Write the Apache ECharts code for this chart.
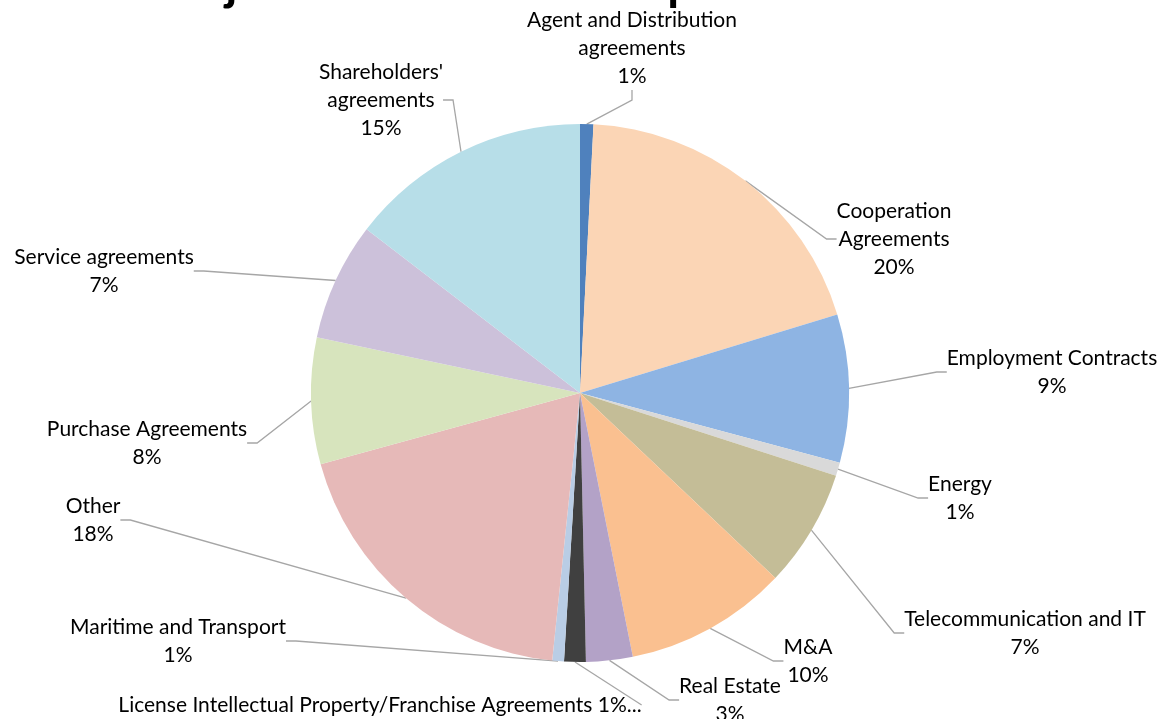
<!DOCTYPE html>
<html><head><meta charset="utf-8">
<script src="https://cdn.jsdelivr.net/npm/echarts@6/dist/echarts.min.js"></script>
<style>html,body{margin:0;padding:0;background:#fff}#c{width:1164px;height:719px}</style>
</head><body><div id="c"></div>
<script>
const titleText = 'Subject matter of the disputes in 2017';
const categories = [
  'Agent and Distribution\nagreements',
  'Cooperation\nAgreements',
  'Employment Contracts',
  'Energy',
  'Telecommunication and IT',
  'M&A',
  'Real Estate',
  'License Intellectual Property/Franchise Agreements',
  'Maritime and Transport',
  'Other',
  'Purchase Agreements',
  'Service agreements',
  "Shareholders'\nagreements"
];
const values = [0.8, 19.5, 8.9, 0.8, 7.1, 9.8, 2.8, 1.3, 0.7, 19.1, 7.6, 7.1, 14.6];
const percentLabels = ['1%', '20%', '9%', '1%', '7%', '10%', '3%', '1%...', '1%', '18%', '8%', '7%', '15%'];
const colors = ['#4F81BD', '#FBD5B5', '#8EB4E3', '#D9D9D9', '#C4BD97', '#FAC090', '#B3A2C7', '#404040', '#B9CDE5', '#E6B9B8', '#D7E4BD', '#CCC1DA', '#B7DEE8'];

// label placement (centre of each label block), layout only
const labelCenters = [[632,48],[894,239],[1052,372],[960,498],[1025,633],[808,661],[730,700],[380,705],[178,641],[93,520],[147,443],[104,271],[381,100]];
const singleLine = [7];

const chart = echarts.init(document.getElementById('c'), null, {renderer: 'canvas'});
const data = categories.map((n, i) => ({
  name: n, value: values[i], itemStyle: {color: colors[i]},
  label: {formatter: singleLine.includes(i) ? n + ' ' + percentLabels[i] : n + '\n' + percentLabels[i]}
}));
chart.setOption({
  animation: false,
  title: {
    text: titleText, left: 140, top: -44,
    textStyle: {fontFamily: 'Lato', fontWeight: 'bold', fontSize: 48, color: '#000'}
  },
  series: [{
    type: 'pie',
    center: [580, 393],
    radius: 269,
    startAngle: 90,
    clockwise: true,
    avoidLabelOverlap: false,
    data: data,
    label: {
      show: true, position: 'outside',
      fontFamily: 'Lato', fontSize: 21, color: '#000', lineHeight: 28
    },
    labelLine: {show: true, length: 20, length2: 10, lineStyle: {color: '#A6A6A6', width: 1.3}},
    labelLayout: function (p) {
      const c = labelCenters[p.dataIndex];
      return {x: c[0], y: c[1], align: 'center', verticalAlign: 'middle'};
    },
    emphasis: {disabled: true}
  }]
});
</script></body></html>
